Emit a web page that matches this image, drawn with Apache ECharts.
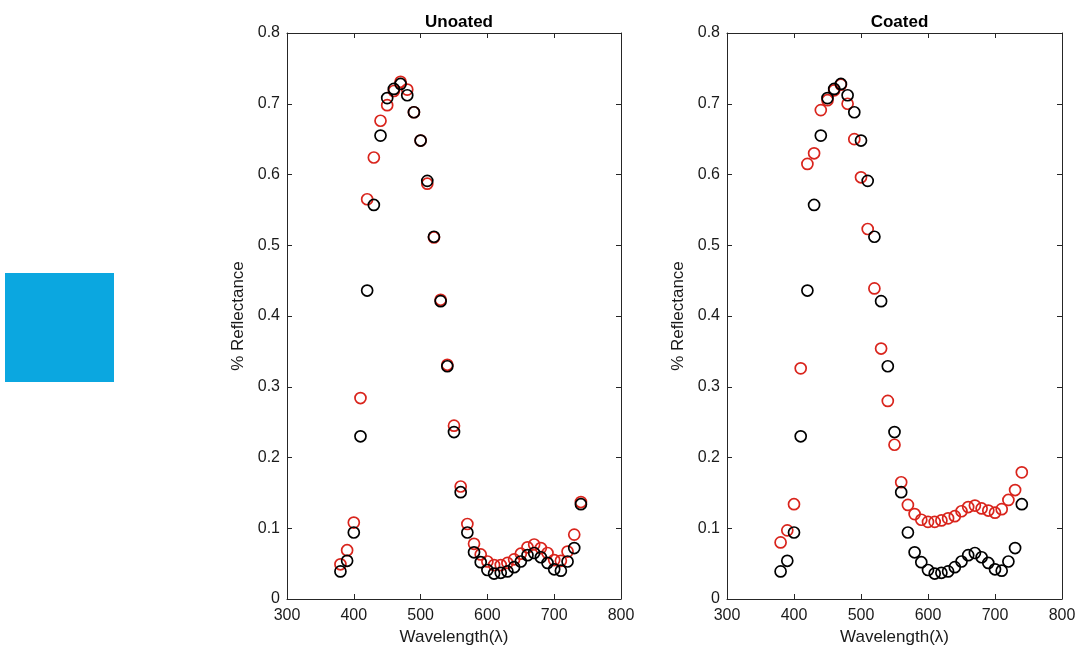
<!DOCTYPE html>
<html>
<head>
<meta charset="utf-8">
<script src="https://cdn.jsdelivr.net/npm/echarts@6/dist/echarts.min.js"></script>
<style>
  html, body { margin: 0; padding: 0; background: #fff; }
  #chart { width: 1080px; height: 653px; }
</style>
</head>
<body>
<div id="chart"></div>
<script>
// wavelengths, 380..740 nm
var wavelengths = [380, 390, 400, 410, 420, 430, 440, 450, 460, 470, 480, 490, 500, 510, 520, 530, 540, 550, 560,
  570, 580, 590, 600, 610, 620, 630, 640, 650, 660, 670, 680, 690, 700, 710, 720, 730, 740];

// black circles (same reference in both panels)
var reference = [0.039, 0.054, 0.094, 0.230, 0.436, 0.557, 0.655, 0.708, 0.721, 0.728, 0.712, 0.688, 0.648, 0.591, 0.512, 0.421, 0.329, 0.236, 0.151,
  0.094, 0.066, 0.052, 0.041, 0.036, 0.037, 0.039, 0.045, 0.053, 0.062, 0.065, 0.059, 0.051, 0.042, 0.040, 0.053, 0.072, 0.134];

// red circles, left panel
var uncoated = [0.049, 0.069, 0.108, 0.284, 0.565, 0.624, 0.676, 0.698, 0.718, 0.731, 0.720, 0.688, 0.648, 0.587, 0.511, 0.423, 0.331, 0.245, 0.159,
  0.106, 0.078, 0.063, 0.053, 0.048, 0.048, 0.051, 0.056, 0.064, 0.073, 0.077, 0.072, 0.065, 0.055, 0.054, 0.067, 0.091, 0.137];

// red circles, right panel
var coated = [0.080, 0.097, 0.134, 0.326, 0.615, 0.630, 0.691, 0.705, 0.719, 0.727, 0.700, 0.650, 0.596, 0.523, 0.439, 0.354, 0.280, 0.218, 0.165,
  0.133, 0.120, 0.112, 0.109, 0.109, 0.111, 0.114, 0.117, 0.124, 0.130, 0.132, 0.128, 0.125, 0.122, 0.127, 0.140, 0.154, 0.179];

var titles = ['Unoated', 'Coated'];
var xName = 'Wavelength(\u03bb)';
var yName = '% Reflectance';

function pairs(ys) {
  return wavelengths.map(function (w, i) { return [w, ys[i]]; });
}

var font = 'Liberation Sans, Arial, sans-serif';
var axisColor = '#262626';

var chart = echarts.init(document.getElementById('chart'));

var grids = [
  { left: 287, top: 33, width: 334, height: 566 },
  { left: 727, top: 33, width: 335, height: 566 }
];

var xAxes = [], yAxes = [];
grids.forEach(function (g, i) {
  [['bottom', true], ['top', false]].forEach(function (p) {
    xAxes.push({
      gridIndex: i, type: 'value', position: p[0], min: 300, max: 800, interval: 100,
      name: p[1] ? xName : '', nameLocation: 'middle', nameGap: 30,
      nameTextStyle: { fontFamily: font, fontSize: 17, color: '#1a1a1a' },
      axisLine: { show: true, onZero: false, lineStyle: { color: axisColor, width: 1 } },
      axisTick: { show: true, inside: true, length: 5, lineStyle: { color: axisColor } },
      axisLabel: { show: p[1], fontFamily: font, fontSize: 16, color: '#1a1a1a', margin: 9 },
      splitLine: { show: false }
    });
  });
  [['left', true], ['right', false]].forEach(function (p) {
    yAxes.push({
      gridIndex: i, type: 'value', position: p[0], min: 0, max: 0.8, interval: 0.1,
      name: p[1] ? yName : '', nameLocation: 'middle', nameGap: 40,
      nameTextStyle: { fontFamily: font, fontSize: 17, color: '#1a1a1a' },
      axisLine: { show: true, onZero: false, lineStyle: { color: axisColor, width: 1 } },
      axisTick: { show: true, inside: true, length: 5, lineStyle: { color: axisColor } },
      axisLabel: { show: p[1], fontFamily: font, fontSize: 16, color: '#1a1a1a', margin: 7,
        formatter: function (v) { return v === 0 ? '0' : String(+v.toFixed(1)); } },
      splitLine: { show: false }
    });
  });
});

function scatter(idx, data, color) {
  return {
    type: 'scatter', xAxisIndex: idx * 2, yAxisIndex: idx * 2, data: pairs(data),
    symbol: 'circle', symbolSize: 11,
    itemStyle: { color: 'rgba(0,0,0,0)', borderColor: color, borderWidth: 1.7, opacity: 1 },
    emphasis: { disabled: true }, animation: false
  };
}

chart.setOption({
  animation: false,
  title: titles.map(function (t, i) {
    return {
      text: t, left: grids[i].left + grids[i].width / 2, top: 9, textAlign: 'center',
      textStyle: { fontFamily: font, fontSize: 17, fontWeight: 'bold', color: '#000' }
    };
  }),
  grid: grids,
  xAxis: xAxes,
  yAxis: yAxes,
  series: [
    scatter(0, uncoated, '#d9241c'),
    scatter(0, reference, '#000000'),
    scatter(1, coated, '#d9241c'),
    scatter(1, reference, '#000000')
  ],
  graphic: [{
    type: 'rect', shape: { x: 5, y: 273, width: 109, height: 109 },
    style: { fill: '#0ba7e0' }
  }]
});
</script>
</body>
</html>
